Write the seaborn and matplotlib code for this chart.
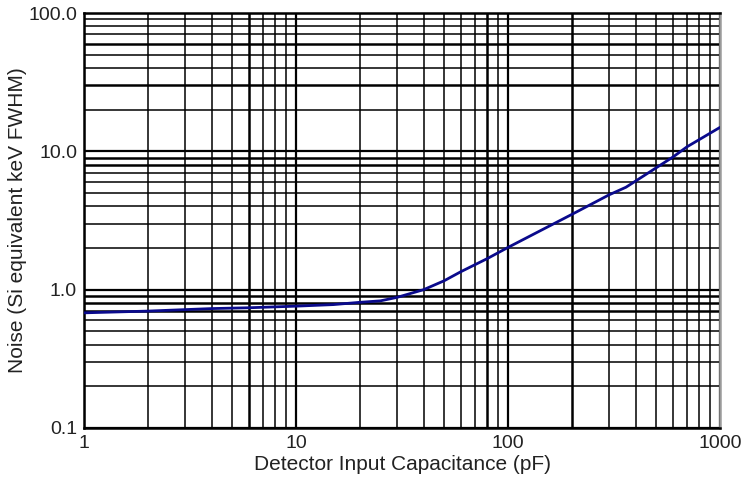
import matplotlib
matplotlib.use("Agg")
import matplotlib.pyplot as plt
import matplotlib.ticker as mticker
import seaborn as sns
import pandas as pd
import numpy as np

# Data
capacitance_pf = [1, 2, 4, 6, 10, 15, 20, 25, 30, 40, 50, 60, 80, 100, 200, 300, 360, 400, 600, 700, 1000]
noise_kev = [0.68, 0.70, 0.73, 0.74, 0.76, 0.78, 0.81, 0.83, 0.88, 1.0, 1.16, 1.35, 1.68, 2.02,
             3.5, 4.85, 5.5, 6.1, 9.1, 10.8, 14.9]
x_ticks = [1, 10, 100, 1000]
x_tick_labels = ["1", "10", "100", "1000"]
y_ticks = [0.1, 1.0, 10.0, 100.0]
y_tick_labels = ["0.1", "1.0", "10.0", "100.0"]

df = pd.DataFrame({"C": capacitance_pf, "N": noise_kev})

sns.set_style("white")
plt.rcParams["font.family"] = ["Liberation Sans", "DejaVu Sans"]

fig = plt.figure(figsize=(7.43, 4.83), dpi=100)
ax = fig.add_axes([84 / 743, 1 - 428 / 483, (720 - 84) / 743, (428 - 13) / 483])

ax.set_xscale("log")
ax.set_yscale("log")
ax.set_xlim(1, 1000)
ax.set_ylim(0.1, 100)

sns.lineplot(data=df, x="C", y="N", ax=ax, color="#0a0a8c", lw=2.0, zorder=5)

ax.xaxis.set_major_locator(mticker.FixedLocator(x_ticks))
ax.xaxis.set_major_formatter(mticker.FixedFormatter(x_tick_labels))
ax.yaxis.set_major_locator(mticker.FixedLocator(y_ticks))
ax.yaxis.set_major_formatter(mticker.FixedFormatter(y_tick_labels))
ax.xaxis.set_minor_locator(mticker.LogLocator(base=10, subs=np.arange(2, 10)))
ax.yaxis.set_minor_locator(mticker.LogLocator(base=10, subs=np.arange(2, 10)))
ax.xaxis.set_minor_formatter(mticker.NullFormatter())
ax.yaxis.set_minor_formatter(mticker.NullFormatter())

ax.grid(which="major", color="black", lw=1.6, zorder=1)
ax.grid(which="minor", color="black", lw=1.1, zorder=1)

# some grid lines printed heavier in the original
bold_x = {6, 80, 100, 200}
bold_y = {0.7, 0.8, 0.9, 8, 9, 30, 60}
for t in ax.xaxis.get_minor_ticks():
    if any(np.isclose(t.get_loc(), v) for v in bold_x):
        t.gridline.set_linewidth(1.8)
for t in ax.yaxis.get_minor_ticks():
    if any(np.isclose(t.get_loc(), v) for v in bold_y):
        t.gridline.set_linewidth(1.8)

ax.tick_params(axis="both", which="major", direction="out", length=4, width=1.2,
               colors="#222222", labelsize=14, pad=1)
ax.tick_params(axis="y", which="minor", direction="out", length=2, width=0.8, color="#444444")
ax.tick_params(axis="x", which="minor", length=0)

for side in ["left", "bottom", "top"]:
    ax.spines[side].set_color("black")
    ax.spines[side].set_linewidth(1.8)
ax.spines["right"].set_color("#9a9a9a")
ax.spines["right"].set_linewidth(1.8)

ax.set_xlabel("Detector Input Capacitance (pF)", fontsize=15, color="#222222", labelpad=2)
ax.set_ylabel("Noise (Si equivalent keV FWHM)", fontsize=15, color="#222222", labelpad=1)

fig.savefig("out.png", dpi=100)
